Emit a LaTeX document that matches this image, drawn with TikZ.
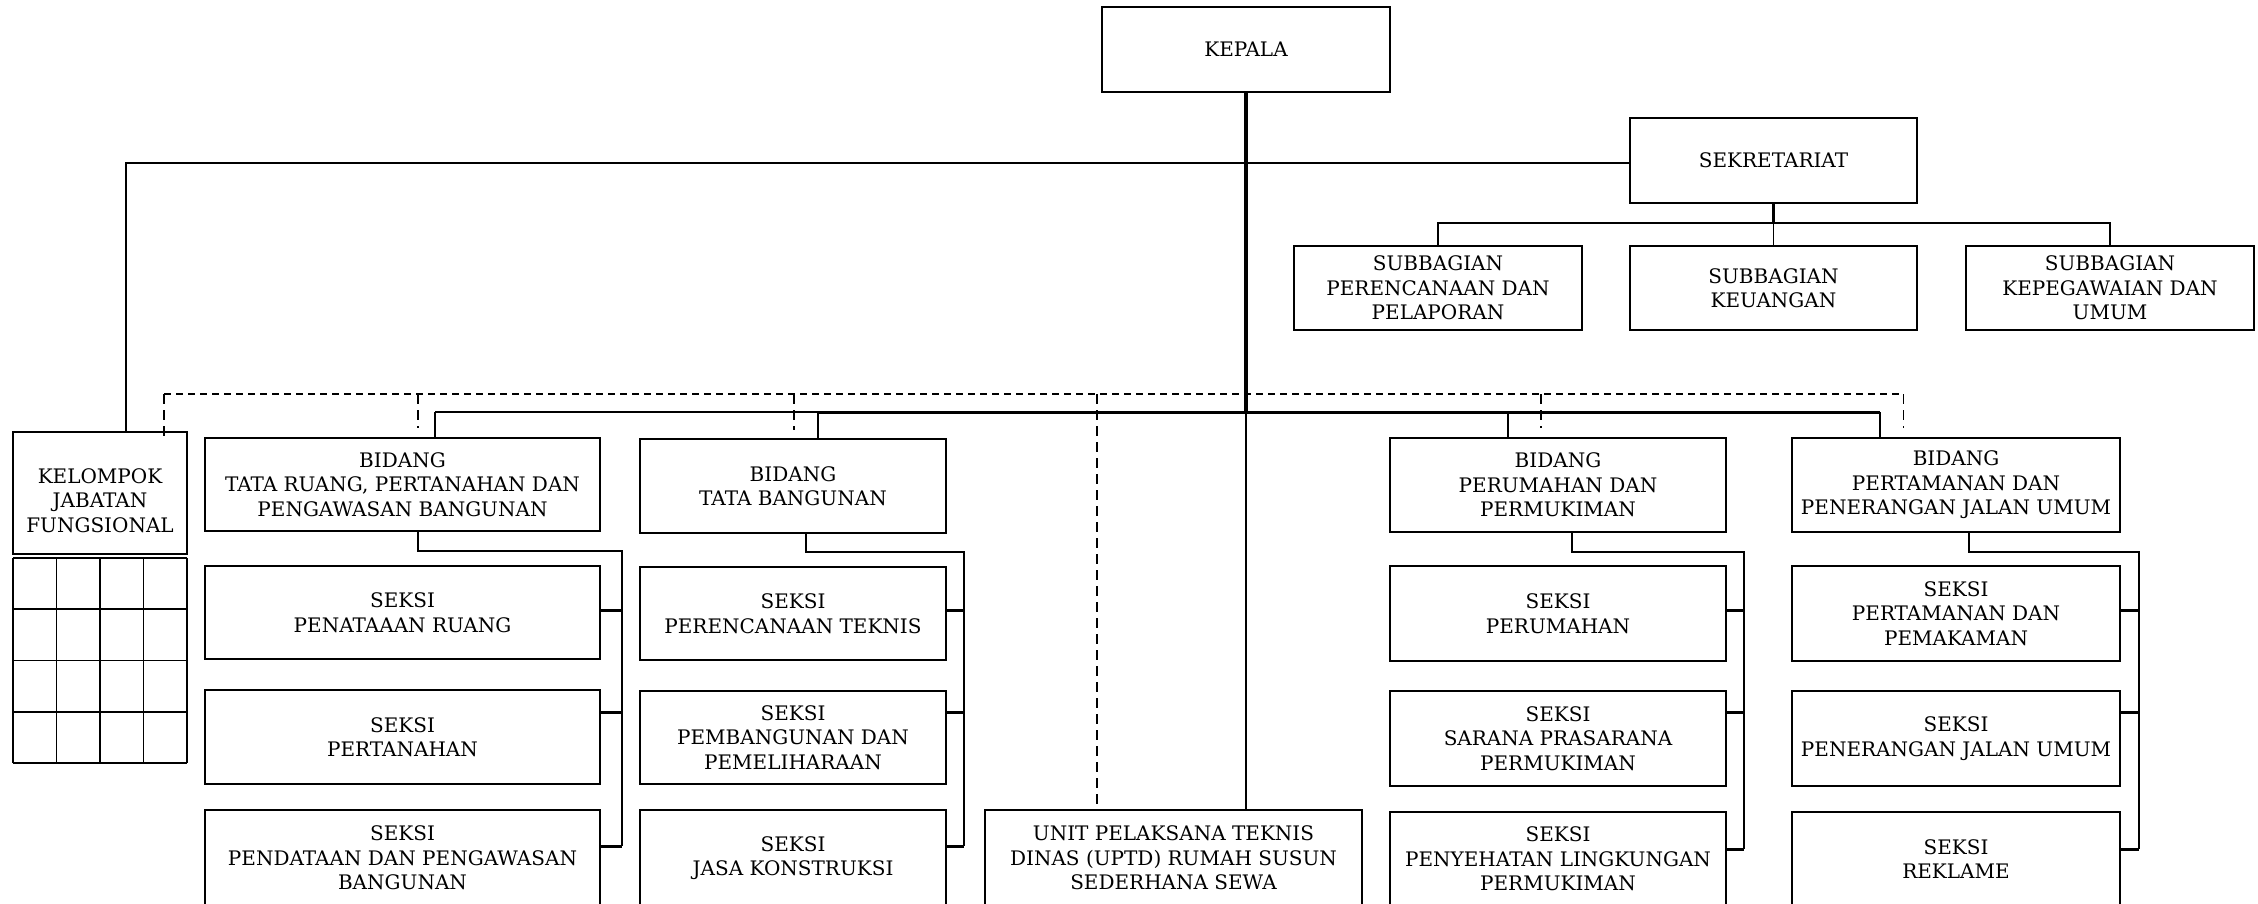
\documentclass[tikz,border=0pt]{standalone}
\usepackage{fontspec}
\setmainfont{DejaVu Serif}
\usetikzlibrary{calc}
\newcommand{\orgbox}[6]{%
  \node[box,minimum width={#4pt-#2pt},minimum height={#5pt-#3pt}] (#1) at (#2,#3) {#6};}
\begin{document}
\begin{tikzpicture}[x=1pt,y=-1pt,
  box/.style={draw,line width=1.8pt,rectangle,inner sep=0pt,outer sep=0pt,anchor=north west,align=center,font=\fontsize{20}{24.5}\selectfont},
  lnmain/.style={line width=4pt},
  lnbar/.style={line width=3pt},
  lnbarl/.style={line width=2.2pt},
  lnthin/.style={line width=1.5pt},
  lnspine/.style={line width=2pt},
  lnstub/.style={line width=3pt},
  lndash/.style={line width=1.4pt,dash pattern=on 7pt off 5pt},
  lndashv/.style={line width=1.4pt,dash pattern=on 10pt off 6pt},
  gridln/.style={line width=1.8pt}]
\useasboundingbox (0,0) rectangle (2258,904);

% top level
\orgbox{kepala}{1102}{7}{1390}{92}{KEPALA}
\orgbox{sekr}{1630}{118}{1917}{203}{SEKRETARIAT}
\orgbox{sub1}{1294}{246}{1582}{330}{SUBBAGIAN\\PERENCANAAN DAN\\PELAPORAN}
\orgbox{sub2}{1630}{246}{1917}{330}{SUBBAGIAN\\KEUANGAN}
\orgbox{sub3}{1966}{246}{2254}{330}{SUBBAGIAN\\KEPEGAWAIAN DAN\\UMUM}

% kelompok jabatan fungsional
\orgbox{kjf}{13}{432}{187}{554}{\raisebox{-10pt}[\height][\depth]{\begin{tabular}{@{}c@{}}KELOMPOK\\JABATAN\\FUNGSIONAL\end{tabular}}}
\draw[gridln,shift={(13,558)}] (0,0) grid[xstep=43.5pt,ystep=51.25pt] (174,205);

% bidang
\orgbox{b1}{205}{438}{600}{531}{BIDANG\\TATA RUANG, PERTANAHAN DAN\\PENGAWASAN BANGUNAN}
\orgbox{b2}{640}{439}{946}{533}{BIDANG\\TATA BANGUNAN}
\orgbox{b3}{1390}{438}{1726}{532}{BIDANG\\PERUMAHAN DAN\\PERMUKIMAN}
\orgbox{b4}{1792}{438}{2120}{532}{BIDANG\\PERTAMANAN DAN\\PENERANGAN JALAN UMUM}

% seksi
\orgbox{s11}{205}{566}{600}{659}{SEKSI\\PENATAAAN RUANG}
\orgbox{s12}{205}{690}{600}{784}{SEKSI\\PERTANAHAN}
\orgbox{s13}{205}{810}{600}{906}{SEKSI\\PENDATAAN DAN PENGAWASAN\\BANGUNAN}
\orgbox{s21}{640}{567}{946}{660}{SEKSI\\PERENCANAAN TEKNIS}
\orgbox{s22}{640}{691}{946}{784}{SEKSI\\PEMBANGUNAN DAN\\PEMELIHARAAN}
\orgbox{s23}{640}{810}{946}{906}{SEKSI\\JASA KONSTRUKSI}
\orgbox{uptd}{985}{810}{1362}{906}{UNIT PELAKSANA TEKNIS\\DINAS (UPTD) RUMAH SUSUN\\SEDERHANA SEWA}
\orgbox{s31}{1390}{566}{1726}{661}{SEKSI\\PERUMAHAN}
\orgbox{s32}{1390}{691}{1726}{786}{SEKSI\\SARANA PRASARANA\\PERMUKIMAN}
\orgbox{s33}{1390}{812}{1726}{906}{SEKSI\\PENYEHATAN LINGKUNGAN\\PERMUKIMAN}
\orgbox{s41}{1792}{566}{2120}{661}{SEKSI\\PERTAMANAN DAN\\PEMAKAMAN}
\orgbox{s42}{1792}{691}{2120}{786}{SEKSI\\PENERANGAN JALAN UMUM}
\orgbox{s43}{1792}{812}{2120}{906}{SEKSI\\REKLAME}

% coordinates
\coordinate (hub) at (1246,412);
\coordinate (kjftop) at (126,432);
\coordinate (sy) at (0,163);
\coordinate (t1) at (435,412);
\coordinate (t2) at (818,412);
\coordinate (t3) at (1508,412);
\coordinate (t4) at (1880,412);
\coordinate (d0) at (164,394);
\coordinate (d1) at (418,394);
\coordinate (d2) at (794,394);
\coordinate (d3) at (1097,394);
\coordinate (d4) at (1541,394);
\coordinate (d5) at (1903.5,394);

% kepala lines
\draw[lnmain] (kepala.south) -- (hub);
\draw[lnthin] (sekr.west |- sy) -| (kjftop);
\draw[lnbarl] (t1) -- (t2);
\draw[lnbar] (t2) -- (t4);
\draw[lnthin] (hub) -- (hub |- uptd.north);
\foreach \t/\b in {t1/b1,t2/b2,t3/b3,t4/b4}
  \draw[lnthin] (\t) -- (\t |- \b.north);

% sekretariat
\draw[lnbarl] (sekr.south) -- ++(0,20);
\draw[lnthin] (sub1.north) -- ++(0,-23) -| (sub3.north);
\draw[lnthin] (sub2.north) -- ++(0,-23);

% dashed coordination lines
\draw[lndash] (d0) -- (d5);
\draw[lndashv] (d0) -- ++(0,47);
\draw[lndashv] (d1) -- ++(0,34);
\draw[lndashv] (d2) -- ++(0,36);
\draw[lndashv] (d3) -- (d3 |- uptd.north);
\draw[lndashv] (d4) -- ++(0,34);
\draw[lndashv] (d5) -- ++(0,34);

% seksi spines
\coordinate (j1) at (418,551);   \coordinate (k1) at (622,551);   \coordinate (e1) at (622,846);
\coordinate (j2) at (805.5,552); \coordinate (k2) at (963.6,552); \coordinate (e2) at (963.6,846);
\coordinate (j3) at (1571.5,551.5); \coordinate (k3) at (1744,551.5); \coordinate (e3) at (1744,849);
\coordinate (j4) at (1969,551.5); \coordinate (k4) at (2138.7,551.5); \coordinate (e4) at (2138.7,849);
\coordinate (ya) at (0,610.5);
\coordinate (yb) at (0,712.5);
\coordinate (yc1) at (0,846);
\coordinate (yc3) at (0,849);

\draw[lnspine] (b1.south -| j1) -- (j1) -- (k1) -- (e1);
\draw[lnspine] (b2.south -| j2) -- (j2) -- (k2) -- (e2);
\draw[lnspine] (b3.south -| j3) -- (j3) -- (k3) -- (e3);
\draw[lnspine] (b4.south -| j4) -- (j4) -- (k4) -- (e4);

\draw[lnstub] (s11.east |- ya) -- (k1 |- ya);
\draw[lnstub] (s12.east |- yb) -- (k1 |- yb);
\draw[lnstub] (s13.east |- yc1) -- (e1);
\draw[lnstub] (s21.east |- ya) -- (k2 |- ya);
\draw[lnstub] (s22.east |- yb) -- (k2 |- yb);
\draw[lnstub] (s23.east |- yc1) -- (e2);
\draw[lnstub] (s31.east |- ya) -- (k3 |- ya);
\draw[lnstub] (s32.east |- yb) -- (k3 |- yb);
\draw[lnstub] (s33.east |- yc3) -- (e3);
\draw[lnstub] (s41.east |- ya) -- (k4 |- ya);
\draw[lnstub] (s42.east |- yb) -- (k4 |- yb);
\draw[lnstub] (s43.east |- yc3) -- (e4);
\end{tikzpicture}
\end{document}
